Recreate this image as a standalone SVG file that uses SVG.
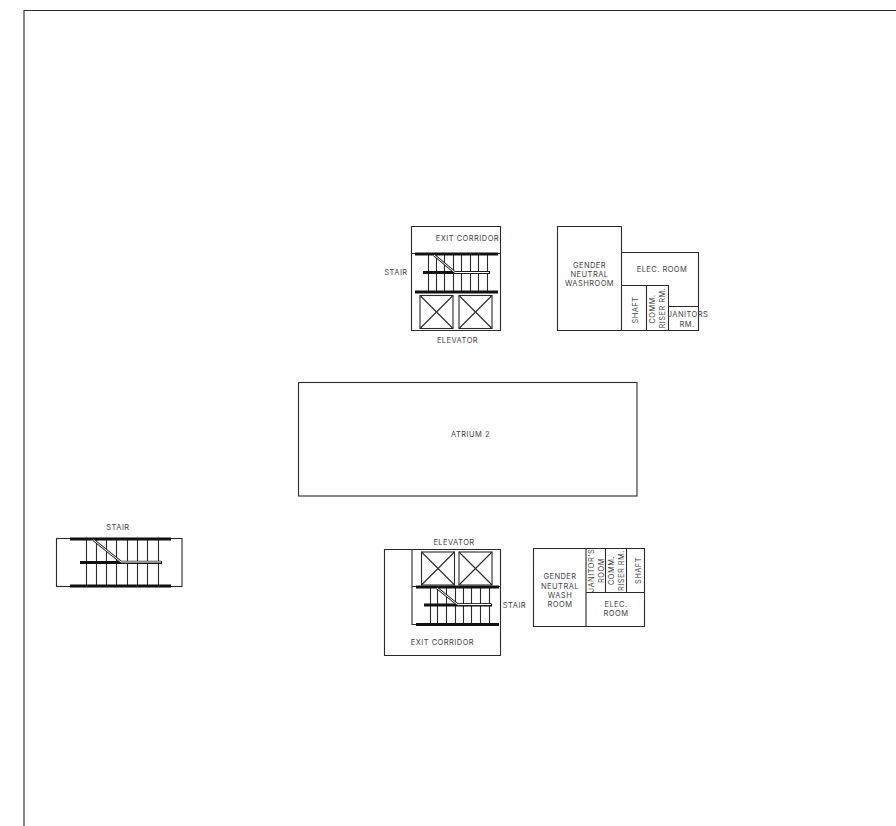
<svg xmlns="http://www.w3.org/2000/svg" width="896" height="826" viewBox="0 0 896 826">
<style>
.w{fill:none;stroke:#2a2a2a;stroke-width:1.100}
.b{stroke:#111;stroke-width:3}
.m{stroke:#111;stroke-width:3}
.s1{fill:none;stroke:#222;stroke-width:2.400}
.s2{fill:none;stroke:#fff;stroke-width:1}
text{font-family:"Inter","Liberation Sans",sans-serif;font-size:7.500px;letter-spacing:.45px;fill:#444;text-anchor:middle}
</style>
<defs>
<g id="x"><rect class="w" x="0" y="0" width="33" height="33"/><path class="w" d="M0 0L33 33M33 0L0 33"/></g>
</defs>
<rect width="896" height="826" fill="#fff"/>
<g id="frame"><path class="w" d="M24 826V10.500H896"/></g>
<g id="north-core">
<path class="w" d="M411.500 226.500H500.500V330.500H411.500ZM411.500 253.500H501"/>
<path class="w" d="M428.500 254V292M436.500 254V292M444.500 254V292M453.500 254V292M461.500 254V292M470.500 254V292M478.500 254V292M487.500 254V292"/>
<path class="b" d="M415 254H498M415 292H498"/>
<path class="m" d="M423 272.500H490"/>
<path class="s1" d="M434 255L455 272.500H489"/>
<path class="s2" d="M434 255L455 272.500H489"/>
<use href="#x" x="420" y="295.500"/><use href="#x" x="459" y="295.500"/>
<text x="467.500" y="241">EXIT CORRIDOR</text>
<text x="396" y="275">STAIR</text>
<text x="457.500" y="343">ELEVATOR</text>
</g>
<g id="north-service">
<path class="w" d="M557.500 226.500H621.500V330.500H557.500ZM621.500 252.500H698.500V330.500H621.500M621.500 285.500H668.500V330.500M646.500 285.500V330.500M668.500 306.500H698.500"/>
<text x="589.500" y="267.500">GENDER</text><text x="589.500" y="277">NEUTRAL</text><text x="589.500" y="286">WASHROOM</text>
<text x="662" y="272">ELEC. ROOM</text>
<text transform="translate(638 310) rotate(-90)">SHAFT</text>
<text transform="translate(655 309) rotate(-90)">COMM.</text>
<text transform="translate(664.500 308) rotate(-90)">RISER RM.</text>
<text x="688" y="317">JANITORS</text><text x="687" y="326.700">RM.</text>
</g>
<g id="atrium">
<rect class="w" x="298.500" y="382.500" width="338.500" height="113.500"/>
<text x="470.500" y="436.500">ATRIUM 2</text>
</g>
<g id="west-stair">
<rect class="w" x="56.500" y="538.500" width="125.500" height="48"/>
<path class="w" d="M86.500 539V586M96.500 539V586M106.500 539V586M116.500 539V586M127.500 539V586M137.500 539V586M147.500 539V586M158.500 539V586"/>
<path class="b" d="M70 539H171M70 586H171"/>
<path class="m" d="M80 562.500H162"/>
<path class="s1" d="M93.500 540L121 562H161"/>
<path class="s2" d="M93.500 540L121 562H161"/>
<text x="118" y="530">STAIR</text>
</g>
<g id="south-core">
<path class="w" d="M384.500 549.500H500.500V655.500H384.500ZM412 549.500V624.500H417M412 586.500H500"/>
<path class="w" d="M430.500 587V624M437.500 587V624M446.500 587V624M455.500 587V624M463.500 587V624M471.500 587V624M480.500 587V624M489.500 587V624"/>
<path class="b" d="M416 587H499M416 624.500H499"/>
<path class="m" d="M424 605H492"/>
<path class="s1" d="M437 588L457.500 604.500H491"/>
<path class="s2" d="M437 588L457.500 604.500H491"/>
<use href="#x" x="421.500" y="552"/><use href="#x" x="459" y="552"/>
<text x="454" y="545">ELEVATOR</text>
<text x="514.500" y="608">STAIR</text>
<text x="442.500" y="645">EXIT CORRIDOR</text>
</g>
<g id="south-service">
<path class="w" d="M533.500 548.500H644.500V626.500H533.500ZM586 548.500V626.500M586 592.500H644.500M605.500 548.500V592.500M626.500 548.500V592.500"/>
<text x="560" y="579">GENDER</text><text x="560" y="589">NEUTRAL</text><text x="560" y="598">WASH</text><text x="560" y="607">ROOM</text>
<text x="616" y="607">ELEC.</text><text x="616" y="616">ROOM</text>
<text transform="translate(594 570.500) rotate(-90)">JANITOR'S</text>
<text transform="translate(603.700 570.500) rotate(-90)">ROOM</text>
<text transform="translate(614.300 570.500) rotate(-90)">COMM.</text>
<text transform="translate(624.300 570.500) rotate(-90)">RISER RM.</text>
<text transform="translate(641 570.500) rotate(-90)">SHAFT</text>
</g>
</svg>
